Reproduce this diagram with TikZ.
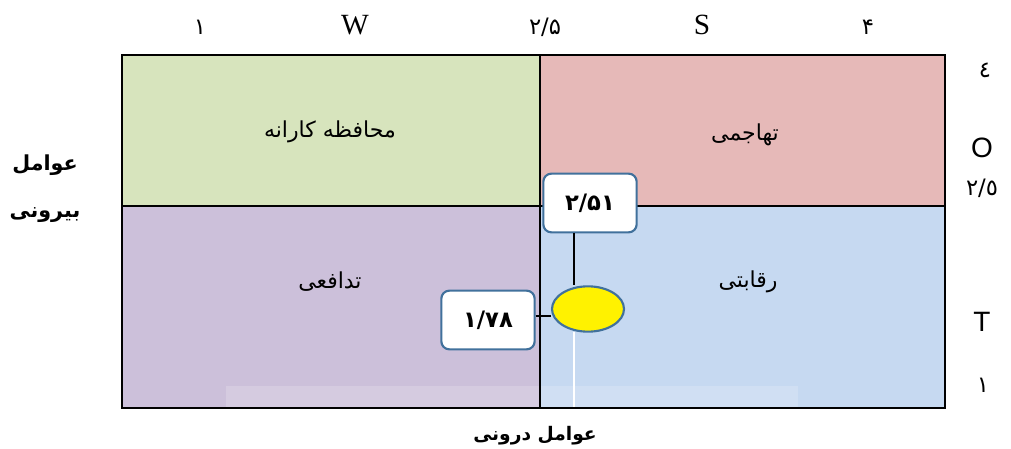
\documentclass[tikz,border=0pt]{standalone}
\usepackage{fontspec}
\setmainfont{Liberation Serif}
\newfontfamily\arsans{Liberation Sans}
\newfontfamily\arabicfont[Script=Arabic]{DejaVu Sans}
\TeXXeTstate=1
\usetikzlibrary{shapes.geometric}
\definecolor{qgreen}{HTML}{D7E4BD}
\definecolor{qred}{HTML}{E6B9B8}
\definecolor{qpurple}{HTML}{CCC0DA}
\definecolor{qblue}{HTML}{C6D9F1}
\definecolor{boxborder}{HTML}{41719C}
\begin{document}
\begin{tikzpicture}[x=0.75pt,y=-0.75pt,
  divline/.style={line width=1.8pt,black},
  valbox/.style={draw=boxborder,line width=1.6pt,fill=white,rounded corners=6pt,minimum width=70pt,minimum height=44pt,inner sep=0pt,font=\arabicfont\bfseries\fontsize{17}{17}\selectfont},
  axlabel/.style={font=\fontsize{22}{22}\selectfont,inner sep=0pt},
  arlabel/.style={font=\arabicfont\fontsize{17}{17}\selectfont,inner sep=0pt},
  qlabel/.style={font=\arabicfont\fontsize{16.5}{16.5}\selectfont,inner sep=0pt},
  blabel/.style={font=\arabicfont\bfseries\fontsize{15.5}{15.5}\selectfont,inner sep=0pt}]
\useasboundingbox (0,0) rectangle (1011,449);
% quadrants
\fill[qgreen] (122,55) rectangle (540,206);
\fill[qred] (540,55) rectangle (945,206);
\fill[qpurple] (122,206) rectangle (540,408);
\fill[qblue] (540,206) rectangle (945,408);
% faint band
\fill[white,opacity=0.18] (226,386) rectangle (798,408);
% white vertical line
\coordinate (wtop) at (574,332);
\coordinate (wbot) at (574,407);
\draw[white,line width=1pt] (wtop) -- (wbot);
% dividers
\draw[divline] (540,55) -- (540,408);
\draw[divline] (122,206) -- (945,206);
\draw[line width=1.8pt,black] (122,55) rectangle (945,408);
% quadrant labels
\node[qlabel] (qtl) at (330,132) {\beginR محافظه کارانه\endR};
\node[qlabel] (qtr) at (745,135) {\beginR تهاجمی\endR};
\node[qlabel] (qbl) at (330,282) {\beginR تدافعی\endR};
\node[qlabel] (qbr) at (748,282) {\beginR رقابتی\endR};
% top axis
\node[arlabel] (t1) at (200,27) {۱};
\node[axlabel] (tW) at (355,25) {W};
\node[arlabel] (t25) at (545,27) {۲/۵};
\node[axlabel] (tS) at (702,25) {S};
\node[arlabel] (t4) at (868,27) {۴};
% right axis
\node[arlabel] (r4) at (985,70) {٤};
\node[axlabel,font=\arsans\fontsize{21}{21}\selectfont] (rO) at (982,148) {O};
\node[arlabel] (r25) at (982,188) {٢/٥};
\node[axlabel,font=\arsans\fontsize{21}{21}\selectfont] (rT) at (982,322) {T};
\node[arlabel] (r1) at (983,385) {١};
% left / bottom labels
\node[blabel] (l1) at (45,165) {\beginR عوامل\endR};
\node[blabel] (l2) at (45,215) {\beginR بیرونی\endR};
\node[blabel,font=\arabicfont\bfseries\fontsize{14}{14}\selectfont] (bt) at (535,436) {\beginR عوامل درونی\endR};
% value boxes and ellipse
\node[valbox] (v251) at (590,203) {۲/۵۱};
\node[valbox] (v178) at (488,320) {۱/۷۸};
\node[ellipse,draw=boxborder,line width=1.6pt,fill=yellow,minimum width=54pt,minimum height=34pt,inner sep=0pt] (pt) at (588,309) {};
\draw[black,line width=0.8pt] (v251.south -| 574,0) -- (pt.north -| 574,0);
\draw[black,line width=1.6pt] (v178.east |- 0,316) -- (pt.west |- 0,316);
\end{tikzpicture}
\end{document}
